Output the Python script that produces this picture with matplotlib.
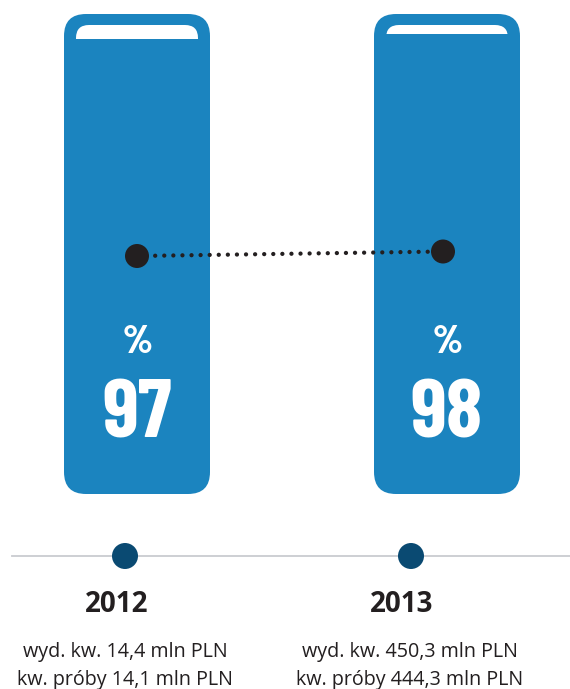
import matplotlib
matplotlib.use("Agg")
import matplotlib.pyplot as plt
from matplotlib.patches import FancyBboxPatch, Rectangle, Circle
from matplotlib import font_manager as fm
from matplotlib.textpath import TextPath

# ---- data ----
years = ["2012", "2013"]
percent = [97, 98]
desc_line1 = ["wyd. kw. 14,4 mln PLN", "wyd. kw. 450,3 mln PLN"]
desc_line2 = ["kw. próby 14,1 mln PLN", "kw. próby 444,3 mln PLN"]

# ---- layout (pixel space) ----
W, H = 570, 689
bar_cx = [137, 447]
bar_w = 146
bar_top, bar_bot = 14, 494
bar_r = 22
cap_inset = 12
cap_top = 25
cap_px_per_unit = 4.6
dot_x = [137, 443]
timeline_y = 556
time_cx = [125, 411]
text_cx = [117, 402]
desc_cx = [125, 410]

BLUE = "#1b84bf"
DARK = "#231f20"
NAVY = "#0a4a72"

available = set(f.name for f in fm.fontManager.ttflist)
candidates = [n for n in ["Roboto Condensed", "Barlow Semi Condensed", "Archivo Narrow",
                          "PT Sans Narrow", "Barlow Condensed", "IBM Plex Sans Condensed",
                          "Asap Condensed", "Encode Sans Condensed", "Fira Sans Condensed"]
              if n in available] or ["DejaVu Sans"]

def ink(s, fam, size=100, weight="bold"):
    ext = TextPath((0, 0), s, size=size,
                   prop=fm.FontProperties(family=fam, weight=weight)).get_extents()
    return ext.width, ext.height

target_ratio = 68 / 59
cond_font = min(candidates, key=lambda n: abs(ink("97", n)[0] / ink("97", n)[1] - target_ratio))

def size_for(s, px_h, weight="bold"):
    _, h = ink(s, cond_font, weight=weight)
    return px_h * 0.72 / (h / 100)

num_size = size_for("97", 59)
pct_size = size_for("%", 28, weight=800)

def dot_y(v):
    # value -> pixel row for the dot markers
    return 256 - (v - 97) * 4.5

fig = plt.figure(figsize=(W / 100, H / 100), dpi=100)
ax = fig.add_axes([0, 0, 1, 1])
ax.set_xlim(0, W)
ax.set_ylim(H, 0)
ax.axis("off")

for i, v in enumerate(percent):
    cx = bar_cx[i]
    x0 = cx - bar_w / 2
    ax.add_patch(FancyBboxPatch((x0, bar_top), bar_w, bar_bot - bar_top,
                                boxstyle=f"round,pad=0,rounding_size={bar_r}",
                                fc=BLUE, ec="none", zorder=1))
    cap_h = (100 - v) * cap_px_per_unit
    cw = bar_w - 2 * cap_inset
    ax.add_patch(FancyBboxPatch((x0 + cap_inset, cap_top), cw, cap_h + 20,
                                boxstyle="round,pad=0,rounding_size=13",
                                fc="white", ec="none", zorder=2))
    ax.add_patch(Rectangle((x0 + cap_inset - 1, cap_top + cap_h), cw + 2, 30,
                           fc=BLUE, ec="none", zorder=3))
    ax.text(cx, 353, "%", ha="center", va="baseline", color="white",
            fontsize=pct_size, fontweight=800, family=cond_font, zorder=5)
    ax.text(cx, 437, str(v), ha="center", va="baseline", color="white",
            fontsize=num_size, fontweight="bold", family=cond_font, zorder=5)

ys = [dot_y(v) for v in percent]
ax.plot(dot_x, ys, linestyle=(0, (0.01, 2.1)), dash_capstyle="round",
        lw=3.1, color=DARK, zorder=6)
for x, y in zip(dot_x, ys):
    ax.add_patch(Circle((x, y), 12, fc=DARK, ec="none", zorder=7))

ax.plot([12, W], [timeline_y, timeline_y], color="#c9cbd0", lw=1.3, zorder=1)
for i, yr in enumerate(years):
    ax.add_patch(Circle((time_cx[i], timeline_y), 13, fc=NAVY, ec="none", zorder=3))
    ax.text(text_cx[i], 605, yr, ha="center", va="center", color=DARK,
            fontsize=20, fontweight="bold", family=["Open Sans", "DejaVu Sans"])
    ax.text(desc_cx[i], 652, desc_line1[i], ha="center", va="center",
            color=DARK, fontsize=14.2, family=["Open Sans", "DejaVu Sans"])
    ax.text(desc_cx[i], 680, desc_line2[i], ha="center", va="center",
            color=DARK, fontsize=14.2, family=["Open Sans", "DejaVu Sans"])

fig.savefig("out.png", dpi=100)
